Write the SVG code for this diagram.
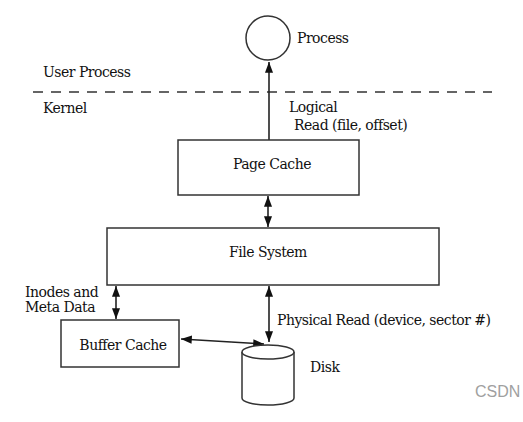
<svg xmlns="http://www.w3.org/2000/svg" width="523" height="422" viewBox="0 0 523 422">
<defs>
<marker id="ah" viewBox="0 0 12 10" refX="12" refY="5" markerWidth="12" markerHeight="9" markerUnits="userSpaceOnUse" orient="auto-start-reverse">
<path d="M0,0.5 L12,5 L0,9.5 z" fill="#111"/>
</marker>
<style>
.t{font-family:"DejaVu Serif","Liberation Serif",serif;font-size:14px;fill:#111;letter-spacing:-0.5px}
.box{fill:#fff;stroke:#333;stroke-width:1.5}
.ln{stroke:#222;stroke-width:1.6;fill:none}
</style>
</defs>
<rect width="523" height="422" fill="#fff"/>
<g id="boundary">
<line x1="33" y1="92" x2="492" y2="92" stroke="#333" stroke-width="1.5" stroke-dasharray="10,8"/>
<text class="t" x="43" y="77">User Process</text>
<text class="t" x="43" y="113">Kernel</text>
</g>
<g id="connectors">
<line class="ln" x1="269" y1="140" x2="269" y2="62" marker-end="url(#ah)"/>
<line class="ln" x1="268" y1="196" x2="268" y2="227" marker-start="url(#ah)" marker-end="url(#ah)"/>
<line class="ln" x1="116" y1="286" x2="116" y2="319" marker-start="url(#ah)" marker-end="url(#ah)"/>
<line class="ln" x1="269" y1="286" x2="269" y2="342" marker-start="url(#ah)" marker-end="url(#ah)"/>
<line class="ln" x1="181" y1="339" x2="264" y2="344" marker-start="url(#ah)" marker-end="url(#ah)"/>
<text class="t" x="289" y="112">Logical</text>
<text class="t" x="294" y="130">Read (file, offset)</text>
<text class="t" x="25" y="297">Inodes and</text>
<text class="t" x="25" y="312">Meta Data</text>
<text class="t" x="277" y="325">Physical Read (device, sector #)</text>
</g>
<g id="process">
<circle cx="268" cy="38" r="22" fill="#fff" stroke="#333" stroke-width="1.5"/>
<text class="t" x="297" y="43">Process</text>
</g>
<g id="page-cache">
<rect class="box" x="178" y="140" width="181" height="55"/>
<text class="t" x="272" y="169" text-anchor="middle">Page Cache</text>
</g>
<g id="file-system">
<rect class="box" x="107" y="228" width="332" height="57"/>
<text class="t" x="268" y="257" text-anchor="middle">File System</text>
</g>
<g id="buffer-cache">
<rect class="box" x="61" y="320" width="118" height="47"/>
<text class="t" x="123" y="350" text-anchor="middle">Buffer Cache</text>
</g>
<g id="disk">
<path d="M242,352 L242,398 A26,7 0 0 0 294,398 L294,352" class="box"/>
<ellipse cx="268" cy="352" rx="26" ry="7" class="box"/>
<text class="t" x="310" y="372">Disk</text>
</g>
<text x="475" y="397" font-family="Liberation Sans, Arial, sans-serif" font-size="16" fill="#a0a0a0">CSDN</text>
</svg>
